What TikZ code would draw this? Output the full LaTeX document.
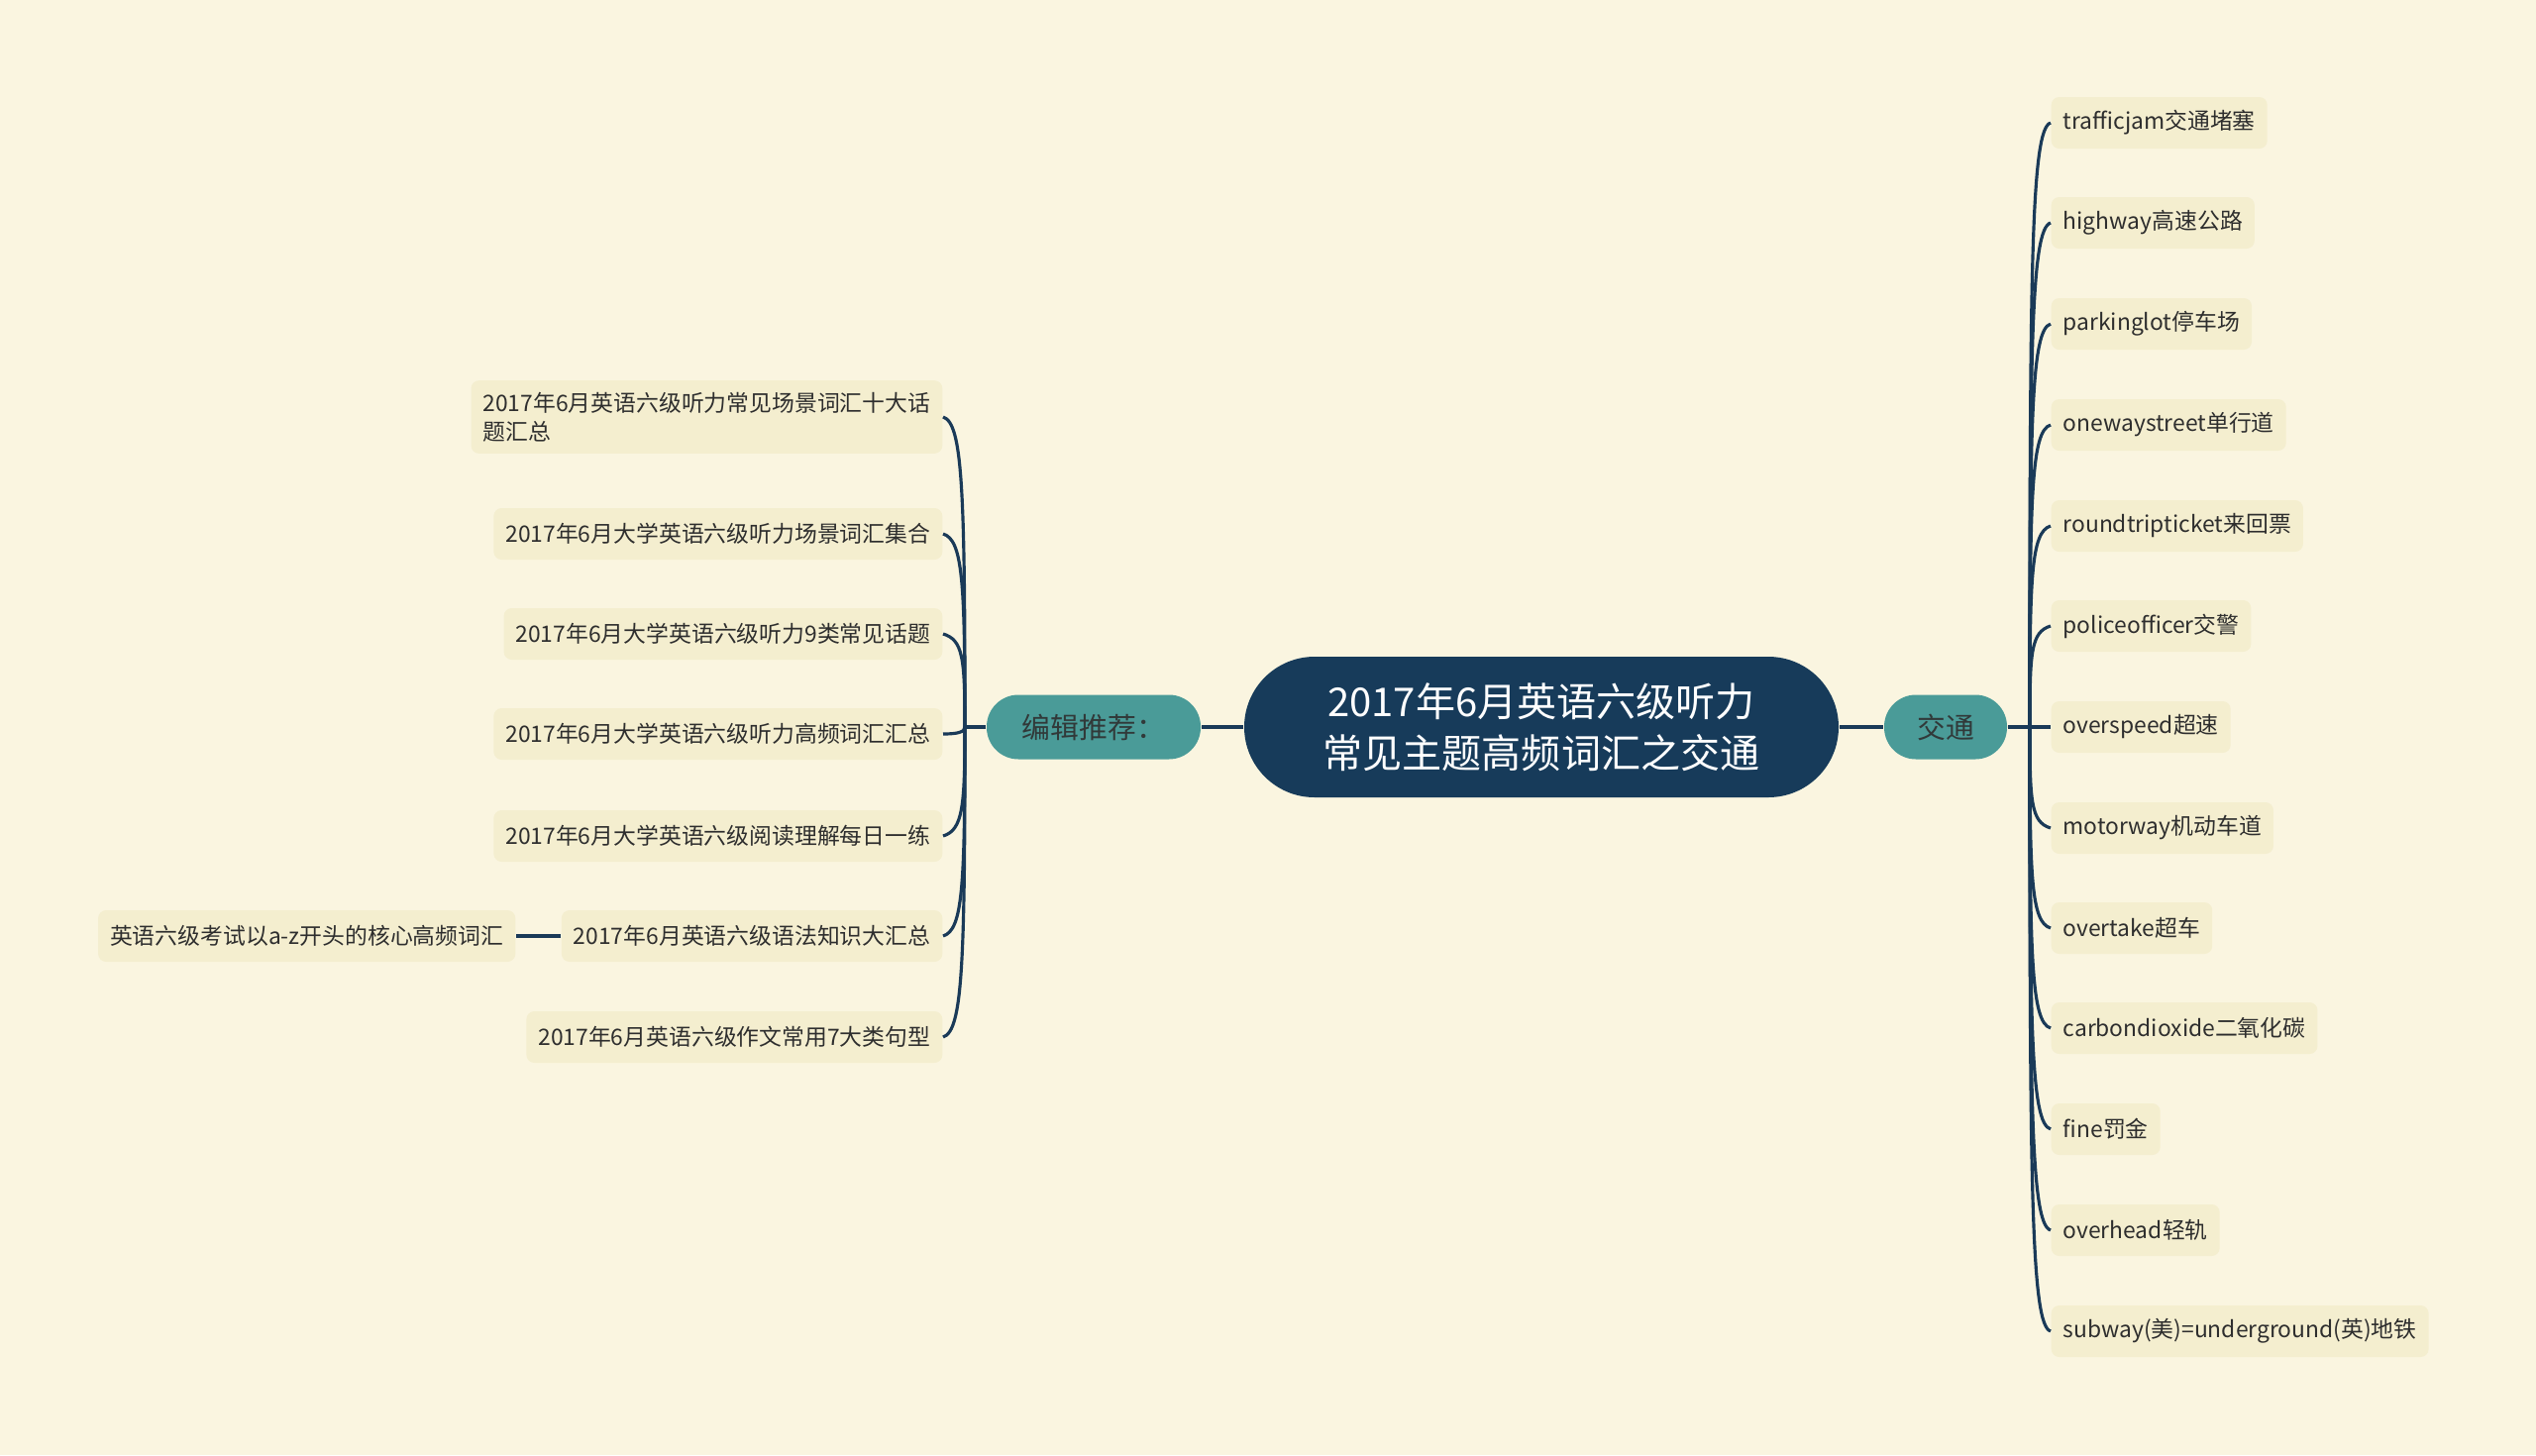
\documentclass[tikz,border=0pt]{standalone}
\usepackage{fontspec}
\setmainfont{Noto Sans CJK SC}
\definecolor{paper}{HTML}{FAF5E0}
\definecolor{leaffill}{HTML}{F4EECF}
\definecolor{rootfill}{HTML}{173B5A}
\definecolor{teal}{HTML}{4A9B98}
\definecolor{linkcol}{HTML}{1A3A58}
\definecolor{ink}{HTML}{2E2E2E}

\begin{document}
\begin{tikzpicture}[
      rootbox/.style={rectangle, rounded corners=0.71cm, fill=rootfill,
        text=white, minimum width=6cm, minimum height=1.42cm, align=center,
        font=\fontsize{11.4pt}{14.8pt}\selectfont},
      branch/.style={rectangle, rounded corners=0.32cm, fill=teal,
        text=ink!90!teal, minimum height=0.65cm, inner xsep=0.3cm,
        font=\fontsize{8.2pt}{10pt}\selectfont},
      leaf/.style={rectangle, rounded corners=0.08cm, fill=leaffill,
        text=ink, minimum height=0.52cm, inner xsep=0.12cm, align=left,
        font=\fontsize{6.5pt}{8.3pt}\selectfont},
      link/.style={draw=linkcol, line width=0.9pt}]

    \fill[paper] (0,0) rectangle (25.6,-14.69);
    \useasboundingbox (0,0) rectangle (25.6,-14.69);

    \node[rootbox] (root) at (15.56,-7.34) {2017年6月英语六级听力\\常见主题高频词汇之交通};
    \node[branch, minimum width=1.24cm] (jt) at (19.64,-7.34) {交通};
    \node[branch, minimum width=2.16cm] (bj) at (11.04,-7.34) {编辑推荐：};

    \coordinate (jc) at (20.49,-7.34);
    \coordinate (bc) at (9.74,-7.34);

    % right side
    \node[leaf, anchor=west] (r1) at (20.70,-1.24) {trafficjam交通堵塞};
    \node[leaf, anchor=west] (r2) at (20.70,-2.25) {highway高速公路};
    \node[leaf, anchor=west] (r3) at (20.70,-3.27) {parkinglot停车场};
    \node[leaf, anchor=west] (r4) at (20.70,-4.29) {onewaystreet单行道};
    \node[leaf, anchor=west] (r5) at (20.70,-5.31) {roundtripticket来回票};
    \node[leaf, anchor=west] (r6) at (20.70,-6.32) {policeofficer交警};
    \node[leaf, anchor=west] (r7) at (20.70,-7.34) {overspeed超速};
    \node[leaf, anchor=west] (r8) at (20.70,-8.36) {motorway机动车道};
    \node[leaf, anchor=west] (r9) at (20.70,-9.37) {overtake超车};
    \node[leaf, anchor=west] (r10) at (20.70,-10.38) {carbondioxide二氧化碳};
    \node[leaf, anchor=west] (r11) at (20.70,-11.40) {fine罚金};
    \node[leaf, anchor=west] (r12) at (20.70,-12.42) {overhead轻轨};
    \node[leaf, anchor=west] (r13) at (20.70,-13.44) {subway(美)=underground(英)地铁};

    % left side
    \node[leaf, anchor=east] (l1) at (9.52,-4.21) {2017年6月英语六级听力常见场景词汇十大话\\题汇总};
    \node[leaf, anchor=east] (l2) at (9.52,-5.39) {2017年6月大学英语六级听力场景词汇集合};
    \node[leaf, anchor=east] (l3) at (9.52,-6.40) {2017年6月大学英语六级听力9类常见话题};
    \node[leaf, anchor=east] (l4) at (9.52,-7.41) {2017年6月大学英语六级听力高频词汇汇总};
    \node[leaf, anchor=east] (l5) at (9.52,-8.44) {2017年6月大学英语六级阅读理解每日一练};
    \node[leaf, anchor=east] (l6) at (9.52,-9.45) {2017年6月英语六级语法知识大汇总};
    \node[leaf, anchor=east] (l7) at (9.52,-10.47) {2017年6月英语六级作文常用7大类句型};
    \node[leaf, anchor=east] (x1) at (5.21,-9.45) {英语六级考试以a-z开头的核心高频词汇};

    \draw[link] (root) -- (jt);
    \draw[link] (jt) -- (jc);
    \draw[link] (root) -- (bj);
    \draw[link] (bj) -- (bc);

    \draw[link] (jc) .. controls +(0,4.6) and +(-0.2,-0.06) .. (r1.west);
    \draw[link] (jc) .. controls +(0,3.8) and +(-0.2,-0.06) .. (r2.west);
    \draw[link] (jc) .. controls +(0,3.05) and +(-0.2,-0.06) .. (r3.west);
    \draw[link] (jc) .. controls +(0,2.3) and +(-0.2,-0.06) .. (r4.west);
    \draw[link] (jc) .. controls +(0,1.5) and +(-0.2,-0.06) .. (r5.west);
    \draw[link] (jc) .. controls +(0,0.75) and +(-0.2,-0.06) .. (r6.west);
    \draw[link] (jc) -- (r7.west);
    \draw[link] (jc) .. controls +(0,-0.75) and +(-0.2,0.06) .. (r8.west);
    \draw[link] (jc) .. controls +(0,-1.5) and +(-0.2,0.06) .. (r9.west);
    \draw[link] (jc) .. controls +(0,-2.3) and +(-0.2,0.06) .. (r10.west);
    \draw[link] (jc) .. controls +(0,-3.05) and +(-0.2,0.06) .. (r11.west);
    \draw[link] (jc) .. controls +(0,-3.8) and +(-0.2,0.06) .. (r12.west);
    \draw[link] (jc) .. controls +(0,-4.6) and +(-0.2,0.06) .. (r13.west);

    \draw[link] (bc) .. controls +(0,2.35) and +(0.2,-0.06) .. (l1.east);
    \draw[link] (bc) .. controls +(0,1.45) and +(0.2,-0.06) .. (l2.east);
    \draw[link] (bc) .. controls +(0,0.7) and +(0.2,-0.06) .. (l3.east);
    \draw[link] (bc) .. controls +(0,-0.05) and +(0.15,0) .. (l4.east);
    \draw[link] (bc) .. controls +(0,-0.8) and +(0.2,0.06) .. (l5.east);
    \draw[link] (bc) .. controls +(0,-1.6) and +(0.2,0.06) .. (l6.east);
    \draw[link] (bc) .. controls +(0,-2.35) and +(0.2,0.06) .. (l7.east);

    \draw[link, line width=1.3pt] (l6) -- (x1);

  \end{tikzpicture}
\end{document}
